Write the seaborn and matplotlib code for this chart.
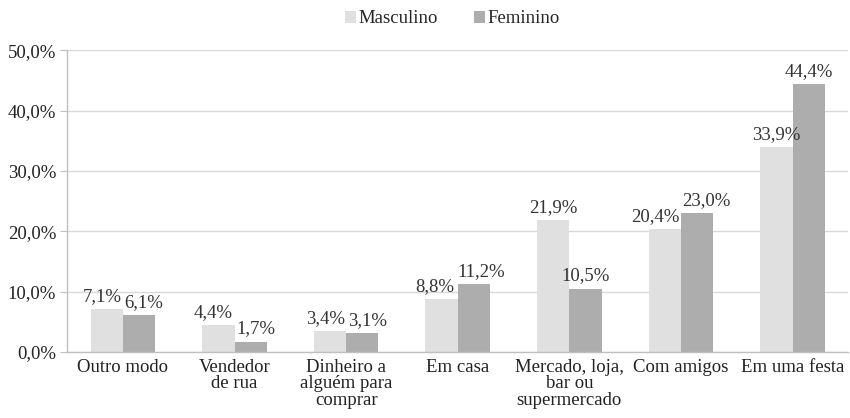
import matplotlib
matplotlib.use("Agg")
import matplotlib.pyplot as plt
import matplotlib.ticker as mticker
import seaborn as sns
import pandas as pd

categories = ["Outro modo", "Vendedor\nde rua", "Dinheiro a\nalguém para\ncomprar", "Em casa",
              "Mercado, loja,\nbar ou\nsupermercado", "Com amigos", "Em uma festa"]
masculino = [7.1, 4.4, 3.4, 8.8, 21.9, 20.4, 33.9]
feminino = [6.1, 1.7, 3.1, 11.2, 10.5, 23.0, 44.4]
series = ["Masculino", "Feminino"]
colors = ["#E0E0E0", "#ADADAE"]

df = pd.DataFrame({
    "cat": categories * 2,
    "val": masculino + feminino,
    "sexo": [series[0]] * len(categories) + [series[1]] * len(categories),
})

sns.set_style("white")
plt.rcParams["font.family"] = ["Liberation Serif", "DejaVu Serif"]
fs = 13.5
DPI = 100

fig = plt.figure(figsize=(8.5, 4.18), dpi=DPI)
ax = fig.add_axes([0.079, 0.158, 0.919, 0.722])

sns.barplot(data=df, x="cat", y="val", hue="sexo", palette=colors, width=0.58,
            saturation=1, ax=ax, legend=True, linewidth=0, edgecolor="none")

labels = []
for cont in ax.containers:
    labels.append(ax.bar_label(cont, labels=[f"{v:.1f}%".replace(".", ",") for v in cont.datavalues],
                               padding=3, fontsize=fs, color="#333333"))

ax.set_ylim(0, 50)
ax.set_xlim(-0.5, len(categories) - 0.5)
ax.yaxis.set_major_locator(mticker.MultipleLocator(10))
ax.yaxis.set_major_formatter(mticker.FuncFormatter(lambda v, p: f"{v:.1f}%".replace(".", ",")))
ax.grid(axis="y", color="#D9D9D9", linewidth=1)
ax.set_axisbelow(True)
ax.set_xlabel("")
ax.set_ylabel("")

for s in ["top", "right"]:
    ax.spines[s].set_visible(False)
for s in ["left", "bottom"]:
    ax.spines[s].set_color("#BFBFBF")
    ax.spines[s].set_linewidth(1)

ax.tick_params(axis="x", which="major", length=0, labelsize=fs, labelcolor="#222222", pad=5)
ax.set_xticks([i + 0.5 for i in range(-1, len(categories))], minor=True)
ax.tick_params(axis="x", which="minor", length=5, color="#BFBFBF", direction="out")
ax.tick_params(axis="y", length=5, color="#BFBFBF", direction="out", labelsize=fs,
               labelcolor="#222222", left=True, pad=3)
for lbl in ax.get_xticklabels():
    lbl.set_linespacing(0.95)

ax.get_legend().remove()
h, l = ax.get_legend_handles_labels()
fig.legend(h, l, loc="center", bbox_to_anchor=(0.532, 0.955), ncol=2, frameon=False,
           fontsize=fs, handlelength=0.6, handleheight=0.6, handletextpad=0.15,
           columnspacing=1.9)

# push apart value labels that collide, like Excel does
fig.canvas.draw()
r = fig.canvas.get_renderer()
for a, b in zip(labels[0], labels[1]):
    ba, bb = a.get_window_extent(r), b.get_window_extent(r)
    if ba.x1 > bb.x0 - 2 and ba.y0 < bb.y1 and bb.y0 < ba.y1:
        d = (ba.x1 - bb.x0 + 3) / 2 * 72 / DPI
        a.xyann = (a.xyann[0] - d, a.xyann[1])
        b.xyann = (b.xyann[0] + d, b.xyann[1])

fig.savefig("out.png", dpi=DPI)
